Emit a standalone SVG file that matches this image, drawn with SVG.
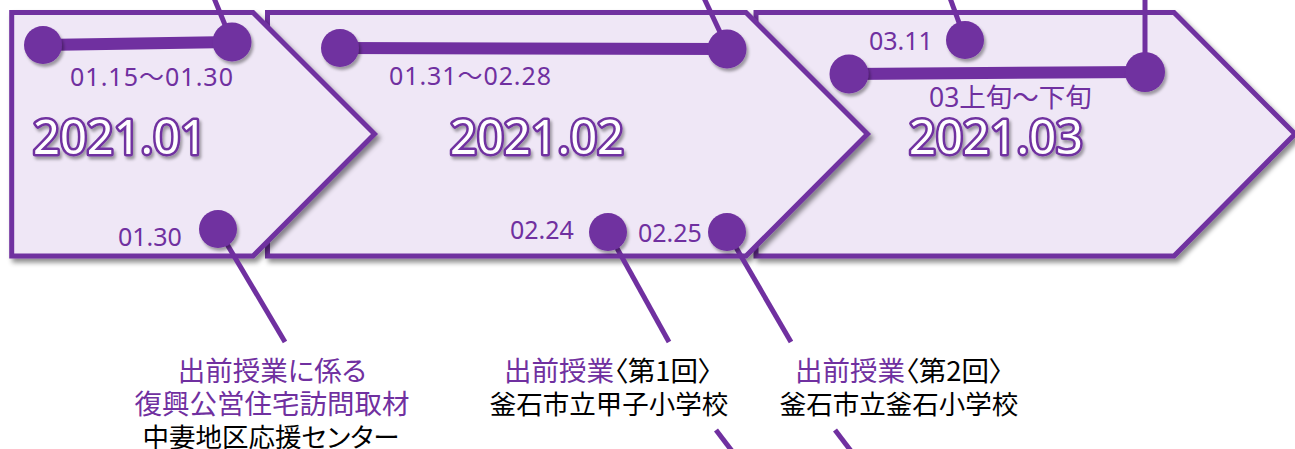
<svg xmlns="http://www.w3.org/2000/svg" width="1295" height="449" viewBox="0 0 1295 449">
  <defs>
    <filter id="sh" x="-10%" y="-10%" width="130%" height="130%">
      <feDropShadow dx="3" dy="4" stdDeviation="2.5" flood-color="#000" flood-opacity="0.45"/>
    </filter>
    <filter id="shs" x="-30%" y="-30%" width="160%" height="160%">
      <feDropShadow dx="2" dy="3" stdDeviation="1.5" flood-color="#000" flood-opacity="0.35"/>
    </filter>
    <style>
      .arrow { fill: #EFE7F6; stroke: #7030A0; stroke-width: 5; stroke-linejoin: miter; filter: url(#sh); }
      .title { font-family: "Noto Sans", "Liberation Sans", sans-serif; font-weight: normal; font-size: 47px; fill: #FFFFFF; stroke: #7030A0; stroke-width: 5; paint-order: stroke; stroke-linejoin: round; text-anchor: middle; filter: url(#shs); }
      .conn { stroke: #7030A0; stroke-width: 5; fill: none; stroke-linecap: butt; }
      .bar { stroke: #7030A0; stroke-width: 12; fill: none; }
      .dot { fill: #7030A0; filter: url(#shs); }
      .lbl { font-family: "Noto Sans", "Noto Sans CJK JP", sans-serif; font-size: 25px; fill: #7030A0; }
      .jp { font-family: "Noto Sans CJK JP", "Noto Sans", sans-serif; text-anchor: middle; font-feature-settings: "palt"; }
      .pu { fill: #7030A0; font-size: 27.5px; }
      .bk { fill: #000000; font-size: 26.5px; }
    </style>
  </defs>

  <g id="month-2021-03">
    <polygon class="arrow" points="756,12.5 1174,12.5 1295,134 1174,256 756,256"/>
    <text class="title" x="996" y="154">2021.03</text>
  </g>
  <g id="month-2021-02">
    <polygon class="arrow" points="267.5,12.5 746,12.5 867.5,134 746,256 267.5,256"/>
    <text class="title" x="537" y="154">2021.02</text>
  </g>
  <g id="month-2021-01">
    <polygon class="arrow" points="11.7,12.5 253,12.5 374.5,134 253,256 11.7,256"/>
    <text class="title" x="120" y="154">2021.01</text>
  </g>

  <g id="connectors">
    <line class="conn" x1="214" y1="-2" x2="232" y2="42"/>
    <line class="conn" x1="704" y1="-2" x2="727" y2="47"/>
    <line class="conn" x1="950" y1="-2" x2="965" y2="39"/>
    <line class="conn" x1="1145" y1="-2" x2="1145" y2="72"/>
    <line class="conn" x1="218" y1="229" x2="285" y2="342"/>
    <line class="conn" x1="608" y1="232" x2="669" y2="342"/>
    <line class="conn" x1="727" y1="232" x2="791" y2="342"/>
    <line class="conn" x1="716" y1="430" x2="732" y2="451"/>
    <line class="conn" x1="835" y1="430" x2="851" y2="451"/>
  </g>

  <g id="event-0115-0130">
    <line class="bar" x1="43" y1="45" x2="232" y2="42"/>
    <circle class="dot" cx="43" cy="45" r="19"/>
    <circle class="dot" cx="232" cy="42" r="19.5"/>
    <text class="lbl" x="70" y="86" textLength="163">01.15〜01.30</text>
  </g>
  <g id="event-0131-0228">
    <line class="bar" x1="340" y1="48" x2="727" y2="49"/>
    <circle class="dot" cx="340" cy="48" r="19"/>
    <circle class="dot" cx="727" cy="49" r="19.5"/>
    <text class="lbl" x="389" y="85" textLength="162">01.31〜02.28</text>
  </g>
  <g id="event-03">
    <line class="bar" x1="849" y1="74" x2="1145" y2="72"/>
    <circle class="dot" cx="849" cy="74" r="19.5"/>
    <circle class="dot" cx="1145" cy="72" r="20"/>
    <text class="lbl" x="929" y="107" style="font-size:26.5px">03上旬〜下旬</text>
  </g>
  <g id="event-0311">
    <circle class="dot" cx="965" cy="40" r="19"/>
    <text class="lbl" x="869" y="50">03.11</text>
  </g>
  <g id="event-0130">
    <circle class="dot" cx="218" cy="229" r="19"/>
    <text class="lbl" x="118" y="246">01.30</text>
  </g>
  <g id="event-0224">
    <circle class="dot" cx="608" cy="232" r="19"/>
    <text class="lbl" x="510" y="239">02.24</text>
  </g>
  <g id="event-0225">
    <circle class="dot" cx="727" cy="232" r="19"/>
    <text class="lbl" x="638" y="242">02.25</text>
  </g>

  <g id="note-0130">
    <text class="jp pu" x="272" y="381">出前授業に係る</text>
    <text class="jp pu" x="272" y="414">復興公営住宅訪問取材</text>
    <text class="jp bk" x="271" y="447">中妻地区応援センター</text>
  </g>
  <g id="note-0224">
    <text class="jp pu" x="608" y="381">出前授業<tspan fill="#000000">〈第1回〉</tspan></text>
    <text class="jp bk" x="609" y="414">釜石市立甲子小学校</text>
  </g>
  <g id="note-0225">
    <text class="jp pu" x="899" y="381">出前授業<tspan fill="#000000">〈第2回〉</tspan></text>
    <text class="jp bk" x="899" y="414">釜石市立釜石小学校</text>
  </g>
</svg>
